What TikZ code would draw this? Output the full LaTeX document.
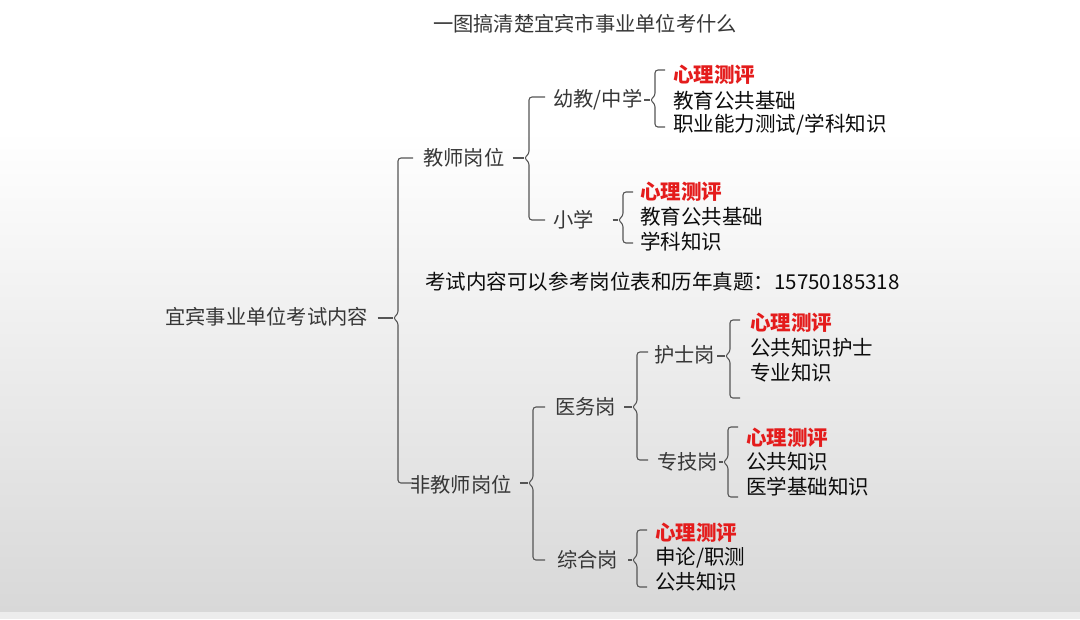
\documentclass[tikz,border=0pt]{standalone}
\usepackage{fontspec}
\newfontfamily\cjk{Noto Sans CJK SC}
\usetikzlibrary{calc}
\definecolor{lbl}{RGB}{55,55,55}
\definecolor{itm}{RGB}{12,12,12}
\definecolor{hl}{RGB}{228,28,28}
\definecolor{ln}{RGB}{85,85,85}
\definecolor{bgb}{RGB}{216,216,216}
\definecolor{strip}{RGB}{236,236,236}
\tikzset{
  lab/.style={anchor=west, inner sep=0pt, text=lbl, font=\cjk\fontsize{15.2}{18}\selectfont},
  itm/.style={anchor=west, inner sep=0pt, text=itm, font=\cjk\fontsize{15.4}{18}\selectfont},
  hot/.style={anchor=west, inner sep=0pt, text=hl, font=\cjk\bfseries\fontsize{15.4}{18}\selectfont},
  br/.style={draw=ln, line width=0.8pt, rounded corners=2.2pt},
  stub/.style={draw=ln, line width=0.8pt}
}
% #1 name, #2 vertical x, #3 top y, #4 mid y, #5 bottom y, #6 tick right x
\newcommand\mybrace[6]{%
  \coordinate (#1t) at (#6,#3);
  \coordinate (#1b) at (#6,#5);
  \coordinate (#1c) at (#2-5,#4);
  \draw[br] (#1t) -- (#2,#3) -- (#2,#4-4) -- (#1c) -- (#2,#4+4) -- (#2,#5) -- (#1b);
}
\begin{document}
\begin{tikzpicture}[x=0.75pt,y=-0.75pt]
\useasboundingbox (0,0) rectangle (1080,619);
\fill[white] (0,0) rectangle (1080,130);
\shade[top color=white,bottom color=bgb] (0,130) rectangle (1080,612);
\fill[strip] (0,612) rectangle (1080,619);

\node[lab, anchor=center, text=lbl] (title) at (585,24) {一图搞清楚宜宾市事业单位考什么};

% root
\node[lab] (root) at (165,317) {宜宾事业单位考试内容};
\mybrace{B0}{398}{158}{318}{483}{413}
\draw[stub] ([xshift=7pt]root.east |- B0c) -- (B0c);

% teacher
\node[lab] (tea) at (423,158) {教师岗位};
\mybrace{B1}{529}{97}{158}{220}{545}
\draw[stub] ([xshift=6pt]tea.east |- B1c) -- (B1c);

\node[lab] (mid) at (553,100) {幼教/中学};
\mybrace{B2}{655}{70}{100}{127}{665}
\draw[stub] ([xshift=1.2pt]mid.east |- B2c) -- (B2c);
\node[hot] (m1) at (673,75) {心理测评};
\node[itm] (m2) at (673,101) {教育公共基础};
\node[itm] (m3) at (673,125) {职业能力测试/学科知识};

\node[lab] (pri) at (553,220) {小学};
\mybrace{B3}{623}{192}{220}{243}{633}
\draw[stub] ([xshift=14pt]pri.east |- B3c) -- (B3c);
\node[hot] (p1) at (640,192) {心理测评};
\node[itm] (p2) at (640,217) {教育公共基础};
\node[itm] (p3) at (640,242) {学科知识};

\node[itm] (note) at (425,282) {考试内容可以参考岗位表和历年真题：15750185318};

% non-teacher
\node[lab] (non) at (410,485) {非教师岗位};
\mybrace{B4}{533}{407}{483}{560}{545}
\draw[stub] ([xshift=6pt]non.east |- B4c) -- (B4c);

\node[lab] (med) at (555,407) {医务岗};
\mybrace{B5}{637}{352}{407}{460}{648}
\draw[stub] ([xshift=6pt]med.east |- B5c) -- (B5c);

\node[lab] (nur) at (654,355) {护士岗};
\mybrace{B6}{730}{320}{356}{398}{740}
\draw[stub] ([xshift=1.5pt]nur.east |- B6c) -- (B6c);
\node[hot] (n1) at (750,323) {心理测评};
\node[itm] (n2) at (750,348) {公共知识护士};
\node[itm] (n3) at (750,373) {专业知识};

\node[lab] (tec) at (657,462) {专技岗};
\mybrace{B7}{728}{427}{462}{497}{738}
\draw[stub] ([xshift=0.8pt]tec.east |- B7c) -- (B7c);
\node[hot] (t1) at (746,438) {心理测评};
\node[itm] (t2) at (746,462) {公共知识};
\node[itm] (t3) at (746,487) {医学基础知识};

\node[lab] (gen) at (557,560) {综合岗};
\mybrace{B8}{637}{530}{560}{587}{647}
\draw[stub] ([xshift=7.5pt]gen.east |- B8c) -- (B8c);
\node[hot] (g1) at (655,533) {心理测评};
\node[itm] (g2) at (655,558) {申论/职测};
\node[itm] (g3) at (655,582) {公共知识};
\end{tikzpicture}
\end{document}
